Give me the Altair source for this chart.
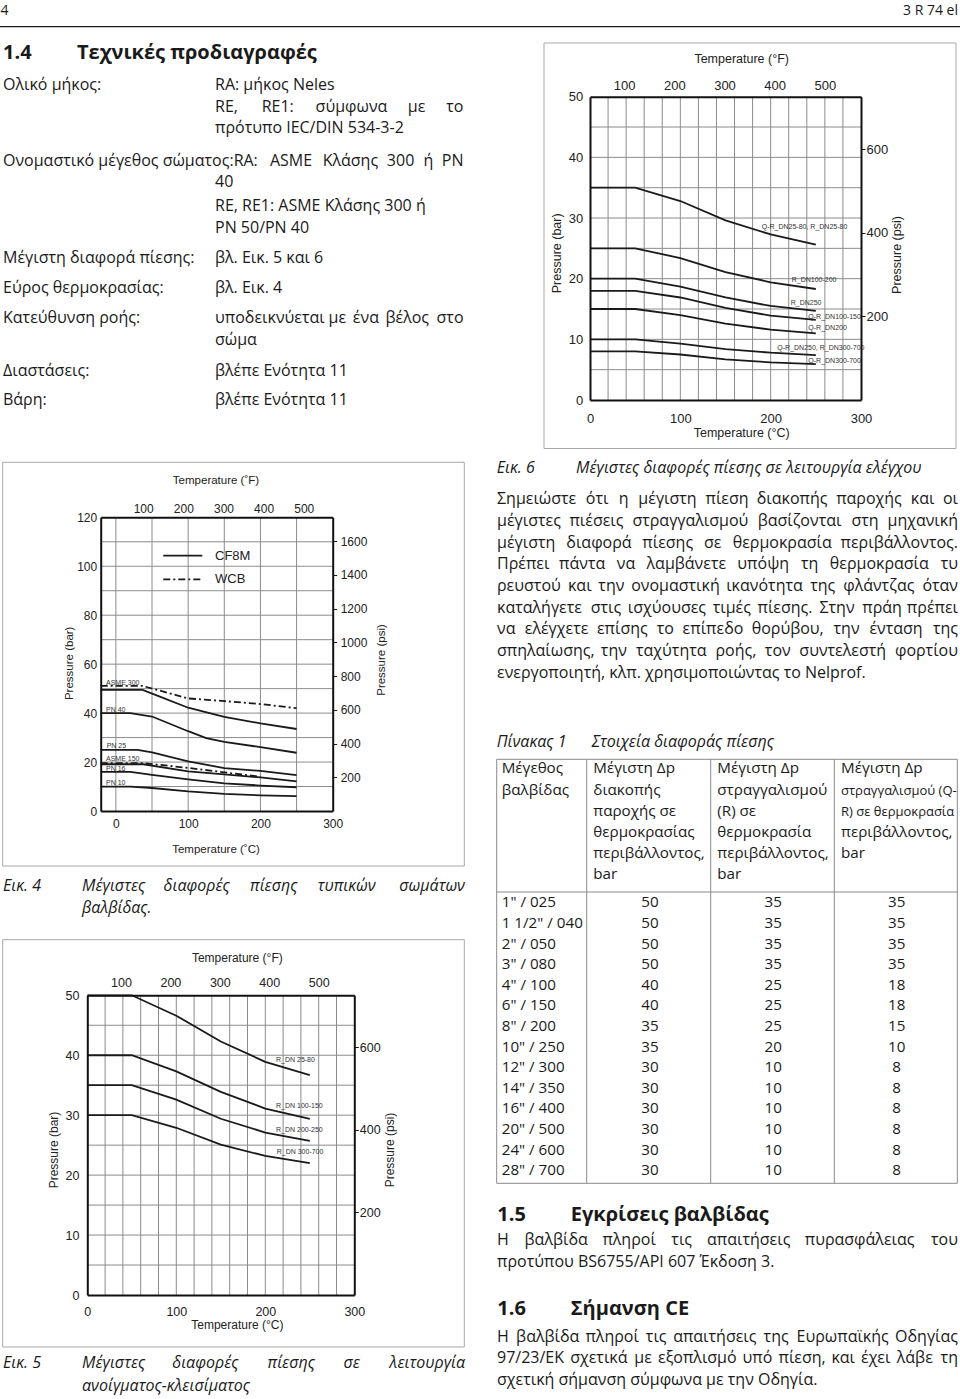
import altair as alt
import pandas as pd

# ======================= DATA =======================
PSI_PER_BAR = 14.5038

# Fig. 6 - max pressure differentials, control service (deg C -> bar)
F6_TEMP = [0, 50, 100, 150, 200, 250]
F6_NAMES = ["Q-R_DN25-80, R_DN25-80", "R_DN100-200", "R_DN250", "Q-R_DN100-150",
            "Q-R_DN200", "Q-R_DN250, R_DN300-700", "Q-R_DN300-700"]
F6_P_QR25_80 = [35, 35, 32.8, 29.6, 27.3, 25.6]
F6_P_R100_200 = [25, 25, 23.4, 21.1, 19.4, 18.3]
F6_P_R250 = [20, 20, 18.7, 16.9, 15.5, 14.7]
F6_P_QR100_150 = [18, 18, 16.9, 15.2, 13.9, 13.2]
F6_P_QR200 = [15, 15, 14.0, 12.6, 11.6, 11.0]
F6_P_QR250_R300 = [10, 10, 9.3, 8.4, 7.8, 7.4]
F6_P_QR300_700 = [8, 8, 7.5, 6.7, 6.2, 5.9]

# Fig. 4 - body ratings (CF8M solid, WCB dash-dot)
F4_T_ASME300_WCB = [-21, 37, 100, 150, 200, 250]
F4_P_ASME300_WCB = [51.1, 51.1, 46.0, 44.9, 43.7, 42.0]
F4_T_ASME300_CF8M = [-21, 37, 60, 100, 150, 200, 250]
F4_P_ASME300_CF8M = [49.5, 49.5, 46.8, 42.2, 38.5, 35.8, 33.5]
F4_T_PN40 = [-21, 20, 50, 100, 125, 150, 200, 250]
F4_P_PN40 = [40, 40, 38.6, 32.6, 29.8, 28.2, 26.1, 23.8]
F4_T_PN25 = [-21, 30, 50, 100, 150, 200, 250]
F4_P_PN25 = [25, 25, 24.0, 20.3, 17.5, 16.4, 14.7]
F4_T_ASME150_WCB = [-21, 38, 100, 150, 200]
F4_P_ASME150_WCB = [19.6, 19.6, 17.6, 15.8, 14.0]
F4_T_ASME150_CF8M = [-21, 38, 100, 150, 200, 250]
F4_P_ASME150_CF8M = [19.1, 19.1, 16.2, 15.0, 13.7, 12.1]
F4_T_PN16 = [-21, 20, 50, 100, 150, 200, 250]
F4_P_PN16 = [16, 16, 14.8, 12.9, 11.3, 10.4, 9.7]
F4_T_PN10 = [-21, 20, 50, 100, 150, 200, 250]
F4_P_PN10 = [10, 10, 9.4, 8.0, 7.0, 6.4, 6.1]

# Fig. 5 - on/off service
F5_TEMP = [0, 50, 100, 150, 200, 250]
F5_NAMES = ["R_DN 25-80", "R_DN 100-150", "R_DN 200-250", "R_DN 300-700"]
F5_P_R25_80 = [50, 50, 46.6, 42.3, 38.9, 36.7]
F5_P_R100_150 = [40, 40, 37.3, 33.9, 31.1, 29.4]
F5_P_R200_250 = [35, 35, 32.6, 29.4, 27.1, 25.7]
F5_P_R300_700 = [30, 30, 27.9, 25.1, 23.2, 22.0]

# Table 1
TBL_SIZE = ['1" / 025', '1 1/2" / 040', '2" / 050', '3" / 080', '4" / 100', '6" / 150',
            '8" / 200', '10" / 250', '12" / 300', '14" / 350', '16" / 400', '20" / 500',
            '24" / 600', '28" / 700']
TBL_SHUTOFF = [50, 50, 50, 50, 40, 40, 35, 35, 30, 30, 30, 30, 30, 30]
TBL_R = [35, 35, 35, 35, 25, 25, 25, 20, 10, 10, 10, 10, 10, 10]
TBL_QR = [35, 35, 35, 35, 18, 18, 15, 10, 8, 8, 8, 8, 8, 8]

# ======================= STYLE / LAYOUT =======================
W, H = 960, 1399
BODY = "Open Sans"
CHART = "Liberation Sans"
INK = "#1a1a1a"
GRID = "#8c8c8c"
BOX = "#a8a8a8"
BS = 16          # body font size
TS = 15.2        # table font size
HS = 20          # heading size

# rough advance widths (em) used only to spread words of justified lines
_CW = {}
for _c in " .,:;'!|iljιίϊΐI":
    _CW[_c] = 0.26
for _c in "ftr()-/\"":
    _CW[_c] = 0.35
for _c in "ekvyxγνχτκλ":
    _CW[_c] = 0.52
for _c in "cszεέςζξ":
    _CW[_c] = 0.475
for _c in "0123456789":
    _CW[_c] = 0.572
_CW.update({"a": 0.556, "m": 0.93, "w": 0.78, "φ": 0.764, "ψ": 0.767, "ω": 0.822, "ώ": 0.822,
            "M": 0.9, "W": 0.9, "Σ": 0.55, "Τ": 0.55, "Ε": 0.56, "Η": 0.74, "Π": 0.73,
            "Ο": 0.78, "Ν": 0.77, "Δ": 0.62, "Κ": 0.59, "Ρ": 0.6, "Β": 0.65, "Α": 0.63})


def est_w(s, size, k=1.0):
    tot = 0.0
    for ch in s:
        if ch in _CW:
            tot += _CW[ch]
        elif ch.isupper():
            tot += 0.66
        else:
            tot += 0.605
    return tot * size * k


def justify(words, x0, x1, y, size=BS, k=1.0):
    """returns (left_rows, center_rows, right_rows) for one justified line"""
    ws = [est_w(w, size, k) for w in words]
    gap = (x1 - x0 - sum(ws)) / (len(words) - 1)
    left, mid, right = [[x0, y, words[0]]], [], [[x1, y, words[-1]]]
    cur = x0 + ws[0] + gap
    for w, wd in zip(words[1:-1], ws[1:-1]):
        mid.append([cur + wd / 2, y, w])
        cur += wd + gap
    return left, mid, right


def txt(rows, size=BS, font=BODY, style="normal", weight="normal", align="left",
        baseline="alphabetic", angle=None, color=INK):
    df = pd.DataFrame(rows, columns=["px", "py", "txt"])
    kw = dict(font=font, fontSize=size, fontStyle=style, fontWeight=weight,
              align=align, baseline=baseline, color=color)
    if angle is not None:
        kw["angle"] = angle
    return alt.Chart(df).mark_text(**kw).encode(
        x=alt.X("px:Q", scale=None, axis=None),
        y=alt.Y("py:Q", scale=None, axis=None),
        text="txt:N")


def rules(rows, color=INK, width=1.0, dash=None):
    df = pd.DataFrame(rows, columns=["ax", "ay", "bx", "by"])
    kw = dict(color=color, strokeWidth=width)
    if dash:
        kw["strokeDash"] = dash
    return alt.Chart(df).mark_rule(**kw).encode(
        x=alt.X("ax:Q", scale=None, axis=None),
        y=alt.Y("ay:Q", scale=None, axis=None),
        x2="bx:Q", y2="by:Q")


def box(x0, y0, x1, y1, color=BOX, width=1.0):
    return rules([[x0, y0, x1, y0], [x1, y0, x1, y1], [x1, y1, x0, y1], [x0, y1, x0, y0]],
                 color=color, width=width)


def axis(orient, values, offset, pad, tick, fs):
    return alt.Axis(orient=orient, values=values, offset=offset, labelPadding=pad,
                    ticks=True, tickSize=tick, tickColor=INK, tickWidth=1,
                    domain=True, domainColor="#111111", domainWidth=2, grid=False,
                    title=None, labelFont=CHART, labelFontSize=fs, labelColor="#222222",
                    labelFlush=False, labelOverlap=False, zindex=2, format="d")


def series_df(pairs):
    rows = []
    for name, ts, ps in pairs:
        for t, p in zip(ts, ps):
            rows.append({"s": name, "t": t, "p": p})
    return pd.DataFrame(rows)


def figure(g, groups):
    xs = alt.Scale(domain=list(g["cdom"]), range=[g["x0"], g["x1"]], nice=False, zero=False)
    ys = alt.Scale(domain=list(g["bdom"]), range=[g["yb"], g["yt"]], nice=False, zero=False)
    fdom = [g["cdom"][0] * 1.8 + 32, g["cdom"][1] * 1.8 + 32]
    pdom = [g["bdom"][0] * PSI_PER_BAR, g["bdom"][1] * PSI_PER_BAR]
    fsc = alt.Scale(domain=fdom, range=[g["x0"], g["x1"]], nice=False, zero=False)
    psc = alt.Scale(domain=pdom, range=[g["yb"], g["yt"]], nice=False, zero=False)
    out = []
    vg = pd.DataFrame({"t": g["vgrid"], "lo": g["bdom"][0], "hi": g["bdom"][1]})
    out.append(alt.Chart(vg).mark_rule(color=GRID, strokeWidth=1).encode(
        x=alt.X("t:Q", scale=xs, axis=None), y=alt.Y("lo:Q", scale=ys, axis=None), y2="hi:Q"))
    hg = pd.DataFrame({"p": g["hgrid"], "lo": g["cdom"][0], "hi": g["cdom"][1]})
    out.append(alt.Chart(hg).mark_rule(color=GRID, strokeWidth=1).encode(
        y=alt.Y("p:Q", scale=ys, axis=None), x=alt.X("lo:Q", scale=xs, axis=None), x2="hi:Q"))
    for df, dash in groups:
        kw = dict(color=INK, strokeWidth=1.8)
        if dash:
            kw["strokeDash"] = dash
        out.append(alt.Chart(df).mark_line(**kw).encode(
            x=alt.X("t:Q", scale=xs, axis=None), y=alt.Y("p:Q", scale=ys, axis=None),
            detail="s:N"))
    fs = g["fs"]
    a1 = pd.DataFrame({"c": [g["cdom"][0]], "b": [g["bdom"][0]]})
    out.append(alt.Chart(a1).mark_point(opacity=0).encode(
        x=alt.X("c:Q", scale=xs, axis=axis("bottom", g["cticks"], g["yb"] - H, g["pb"], 0, fs)),
        y=alt.Y("b:Q", scale=ys, axis=axis("left", g["bticks"], -g["x0"], g["pl"], 0, fs))))
    a2 = pd.DataFrame({"f": [fdom[0]], "q": [pdom[0]]})
    out.append(alt.Chart(a2).mark_point(opacity=0).encode(
        x=alt.X("f:Q", scale=fsc, axis=axis("top", g["fticks"], -g["yt"], g["pt"], 0, fs)),
        y=alt.Y("q:Q", scale=psc, axis=axis("right", g["pticks"], g["x1"] - W, g["pr"], 4, fs))))
    return out


layers = []
REG = {"left": [], "center": [], "right": []}     # regular body text
ITA = {"left": [], "center": [], "right": []}     # italic captions


def add_just(store, words, x0, x1, y, k=1.0):
    l, m, r = justify(words, x0, x1, y, BS, k)
    store["left"] += l
    store["center"] += m
    store["right"] += r


# ---------------- page header ----------------
layers.append(rules([[0, 26.7, 960, 26.7]], color=INK, width=1.3))
layers.append(txt([[0.5, 15, "4"]], size=14))
layers.append(txt([[958, 15, "3 R 74 el"]], size=14, align="right"))
layers.append(txt([[3, 59.3, "1.4"], [77, 59.3, "Τεχνικές προδιαγραφές"],
                   [497.3, 1220.7, "1.5"], [570.7, 1220.7, "Εγκρίσεις βαλβίδας"],
                   [497.3, 1315, "1.6"], [570.7, 1315, "Σήμανση CE"]],
                  size=HS, weight="bold"))

# ---------------- left specification block ----------------
LX, VX, RX = 3, 215, 463.5
REG["left"] += [
    [LX, 90, "Ολικό μήκος:"], [VX, 90, "RA: μήκος Neles"],
    [VX, 133.3, "πρότυπο IEC/DIN 534-3-2"],
    [VX, 186.7, "40"],
    [VX, 210.7, "RE, RE1: ASME Κλάσης 300 ή"],
    [VX, 232.7, "PN 50/PN 40"],
    [LX, 262.7, "Μέγιστη διαφορά πίεσης:"], [VX, 262.7, "βλ. Εικ. 5 και 6"],
    [LX, 292.7, "Εύρος θερμοκρασίας:"], [VX, 292.7, "βλ. Εικ. 4"],
    [LX, 322.7, "Κατεύθυνση ροής:"],
    [VX, 345, "σώμα"],
    [LX, 375.7, "Διαστάσεις:"], [VX, 375.7, "βλέπε Ενότητα 11"],
    [LX, 405.3, "Βάρη:"], [VX, 405.3, "βλέπε Ενότητα 11"],
]
add_just(REG, ["RE,", "RE1:", "σύμφωνα", "με", "το"], VX, RX, 111.7)
add_just(REG, ["Ονομαστικό μέγεθος σώματος:RA:", "ASME", "Κλάσης", "300", "ή", "PN"], LX, RX, 165.7)
add_just(REG, ["υποδεικνύεται", "με", "ένα", "βέλος", "στο"], VX, RX, 322.7)

# ---------------- right column text ----------------
PX0, PX1 = 497, 958
para = ["Σημειώστε ότι η μέγιστη πίεση διακοπής παροχής και οι",
        "μέγιστες πιέσεις στραγγαλισμού βασίζονται στη μηχανική",
        "μέγιστη διαφορά πίεσης σε θερμοκρασία περιβάλλοντος.",
        "Πρέπει πάντα να λαμβάνετε υπόψη τη θερμοκρασία τυ",
        "ρευστού και την ονομαστική ικανότητα της φλάντζας όταν",
        "καταλήγετε στις ισχύουσες τιμές πίεσης. Στην πράη πρέπει",
        "να ελέγχετε επίσης το επίπεδο θορύβου, την ένταση της",
        "σπηλαίωσης, την ταχύτητα ροής, τον συντελεστή φορτίου",
        "ενεργοποιητή, κλπ. χρησιμοποιώντας το Nelprof."]
for i, s in enumerate(para):
    y = 504.3 + i * 21.68
    if i < len(para) - 1:
        add_just(REG, s.split(" "), PX0, PX1, y)
    else:
        REG["left"].append([PX0, y, s])

add_just(REG, "Η βαλβίδα πληροί τις απαιτήσεις πυρασφάλειας του".split(" "), PX0, PX1, 1245)
REG["left"].append([PX0, 1267.3, "προτύπου BS6755/API 607 Έκδοση 3."])
add_just(REG, "Η βαλβίδα πληροί τις απαιτήσεις της Ευρωπαϊκής Οδηγίας".split(" "), PX0, PX1, 1341.7)
add_just(REG, "97/23/ΕΚ σχετικά με εξοπλισμό υπό πίεση, και έχει λάβε τη".split(" "), PX0, PX1, 1363.3)
REG["left"].append([PX0, 1385, "σχετική σήμανση σύμφωνα με την Οδηγία."])

# captions (italic)
ITA["left"] += [
    [496.7, 472.7, "Εικ. 6"], [576, 472.7, "Μέγιστες διαφορές πίεσης σε λειτουργία ελέγχου"],
    [496.7, 747.3, "Πίνακας 1"], [591.7, 747.3, "Στοιχεία διαφοράς πίεσης"],
    [3, 891, "Εικ. 4"], [82, 913, "βαλβίδας."],
    [3, 1368, "Εικ. 5"], [82, 1391, "ανοίγματος-κλεισίματος"]]
add_just(ITA, "Μέγιστες διαφορές πίεσης τυπικών σωμάτων".split(" "), 82, 465, 891, k=0.95)
add_just(ITA, "Μέγιστες διαφορές πίεσης σε λειτουργία".split(" "), 82, 465, 1368, k=0.95)

for al in ("left", "center", "right"):
    if REG[al]:
        layers.append(txt(REG[al], align=al))
    if ITA[al]:
        layers.append(txt(ITA[al], align=al, style="italic"))

# ---------------- Table 1 ----------------
TX = [496.7, 586.7, 710.7, 834.3, 957.3]
TY0, TYH, TY1 = 759.3, 892, 1183.3
tbl_lines = [[TX[0], TY0, TX[4], TY0], [TX[0], TYH, TX[4], TYH], [TX[0], TY1, TX[4], TY1]]
tbl_lines += [[x, TY0, x, TY1] for x in TX]
layers.append(rules(tbl_lines, color="#8a8a8a", width=1))
HB = [773.3, 794.5, 815.7, 836.9, 858.1, 879.3]
hdr = [[501.7, HB[0], "Μέγεθος"], [501.7, HB[1], "βαλβίδας"]]
for i, s in enumerate(["Μέγιστη Δp", "διακοπής", "παροχής σε", "θερμοκρασίας", "περιβάλλοντος,", "bar"]):
    hdr.append([593.3, HB[i], s])
for i, s in enumerate(["Μέγιστη Δp", "στραγγαλισμού", "(R) σε", "θερμοκρασία", "περιβάλλοντος,", "bar"]):
    hdr.append([717.3, HB[i], s])
hdr += [[841, HB[0], "Μέγιστη Δp"], [841, HB[3], "περιβάλλοντος,"], [841, HB[4], "bar"]]
layers.append(txt(hdr, size=TS))
layers.append(txt([[841, HB[1], "στραγγαλισμού (Q-"], [841, HB[2], "R) σε θερμοκρασία"]], size=13))
rows_l, rows_c = [], []
for i in range(len(TBL_SIZE)):
    yb = 907.3 + i * 20.6
    rows_l.append([501.7, yb, TBL_SIZE[i]])
    rows_c += [[650, yb, str(TBL_SHUTOFF[i])], [773.3, yb, str(TBL_R[i])], [896.7, yb, str(TBL_QR[i])]]
layers.append(txt(rows_l, size=TS))
layers.append(txt(rows_c, size=TS, align="center"))

# ---------------- Fig. 6 ----------------
G6 = dict(x0=590, x1=861, yb=400, yt=96.7, cdom=(0, 300), bdom=(0, 50),
          vgrid=list(range(20, 300, 20)), hgrid=list(range(5, 50, 5)),
          cticks=[0, 100, 200, 300], bticks=[0, 10, 20, 30, 40, 50],
          fticks=[100, 200, 300, 400, 500], pticks=[200, 400, 600],
          fs=13, pl=7.3, pb=12.7, pt=4.7, pr=1)
f6 = series_df(list(zip(F6_NAMES, [F6_TEMP] * 7,
                        [F6_P_QR25_80, F6_P_R100_200, F6_P_R250, F6_P_QR100_150,
                         F6_P_QR200, F6_P_QR250_R300, F6_P_QR300_700])))
layers.append(box(544, 43, 956, 448.5))
layers += figure(G6, [(f6, None)])
layers.append(txt([[761.7, 228.7, F6_NAMES[0]], [791.7, 282, F6_NAMES[1]], [790.7, 304.7, F6_NAMES[2]],
                   [808.3, 318.7, F6_NAMES[3]], [808.3, 330, F6_NAMES[4]], [777.3, 349.7, F6_NAMES[5]],
                   [808.3, 362.7, F6_NAMES[6]]], size=7, font=CHART, color="#333333"))
layers.append(txt([[741.7, 63.3, "Temperature (°F)"], [741.7, 436.7, "Temperature (°C)"]],
                  size=12.5, font=CHART, align="center", color="#222222"))
layers.append(txt([[556.7, 253.3, "Pressure (bar)"], [896.7, 255, "Pressure (psi)"]],
                  size=12.5, font=CHART, align="center", baseline="middle", angle=270, color="#222222"))

# ---------------- Fig. 4 ----------------
G4 = dict(x0=100.7, x1=332.7, yb=811, yt=517.3, cdom=(-21, 300), bdom=(0, 120),
          vgrid=[0, 50, 100, 150, 200, 250], hgrid=list(range(10, 120, 10)),
          cticks=[0, 100, 200, 300], bticks=[0, 20, 40, 60, 80, 100, 120],
          fticks=[100, 200, 300, 400, 500], pticks=[200, 400, 600, 800, 1000, 1200, 1400, 1600],
          fs=12, pl=4, pb=7.7, pt=2, pr=3.5)
f4_cf8m = series_df([("ASME 300", F4_T_ASME300_CF8M, F4_P_ASME300_CF8M),
                     ("PN 40", F4_T_PN40, F4_P_PN40), ("PN 25", F4_T_PN25, F4_P_PN25),
                     ("ASME 150", F4_T_ASME150_CF8M, F4_P_ASME150_CF8M),
                     ("PN 16", F4_T_PN16, F4_P_PN16), ("PN 10", F4_T_PN10, F4_P_PN10)])
f4_wcb = series_df([("ASME 300", F4_T_ASME300_WCB, F4_P_ASME300_WCB),
                    ("ASME 150", F4_T_ASME150_WCB, F4_P_ASME150_WCB)])
WCB_DASH = [7, 3, 2, 3]
layers.append(box(2.7, 462.3, 464.3, 866))
layers += figure(G4, [(f4_cf8m, None), (f4_wcb, WCB_DASH)])
layers.append(txt([[106, 684.7, "ASME 300"], [106, 711.7, "PN 40"], [106.7, 747.7, "PN 25"],
                   [106, 760.7, "ASME 150"], [106, 771, "PN 16"], [106, 785, "PN 10"]],
                  size=7, font=CHART, color="#333333"))
layers.append(rules([[163.3, 555.7, 202.3, 555.7]], width=1.8))
layers.append(rules([[163.3, 579.3, 202.3, 579.3]], width=1.8, dash=WCB_DASH))
layers.append(txt([[215, 560.3, "CF8M"], [215, 583.3, "WCB"]], size=13, font=CHART, color="#222222"))
layers.append(txt([[216, 484.3, "Temperature (˚F)"], [216, 853.3, "Temperature (˚C)"]],
                  size=11.5, font=CHART, align="center", color="#222222"))
layers.append(txt([[70, 663.3, "Pressure (bar)"], [381.7, 660, "Pressure (psi)"]],
                  size=11.5, font=CHART, align="center", baseline="middle", angle=270, color="#222222"))

# ---------------- Fig. 5 ----------------
G5 = dict(x0=87.3, x1=354.3, yb=1295, yt=995.3, cdom=(0, 300), bdom=(0, 50),
          vgrid=list(range(20, 300, 20)), hgrid=list(range(5, 50, 5)),
          cticks=[0, 100, 200, 300], bticks=[0, 10, 20, 30, 40, 50],
          fticks=[100, 200, 300, 400, 500], pticks=[200, 400, 600],
          fs=12.5, pl=8.3, pb=10.7, pt=5.6, pr=1)
f5 = series_df(list(zip(F5_NAMES, [F5_TEMP] * 4,
                        [F5_P_R25_80, F5_P_R100_150, F5_P_R200_250, F5_P_R300_700])))
layers.append(box(2.7, 939.7, 464.3, 1347))
layers += figure(G5, [(f5, None)])
layers.append(txt([[276, 1062.3, F5_NAMES[0]], [276, 1107.7, F5_NAMES[1]],
                   [276, 1132, F5_NAMES[2]], [276.7, 1153.7, F5_NAMES[3]]],
                  size=7, font=CHART, color="#333333"))
layers.append(txt([[237.3, 962.3, "Temperature (°F)"], [237.3, 1329.3, "Temperature (°C)"]],
                  size=12, font=CHART, align="center", color="#222222"))
layers.append(txt([[54, 1150, "Pressure (bar)"], [390, 1150, "Pressure (psi)"]],
                  size=12, font=CHART, align="center", baseline="middle", angle=270, color="#222222"))

chart = alt.layer(*layers).resolve_scale(x="independent", y="independent").properties(
    width=W, height=H, padding=0, background="white",
    autosize=alt.AutoSizeParams(type="none")
).configure_view(stroke=None)

chart.save("out.html", embed_options={"renderer": "svg", "actions": False})
